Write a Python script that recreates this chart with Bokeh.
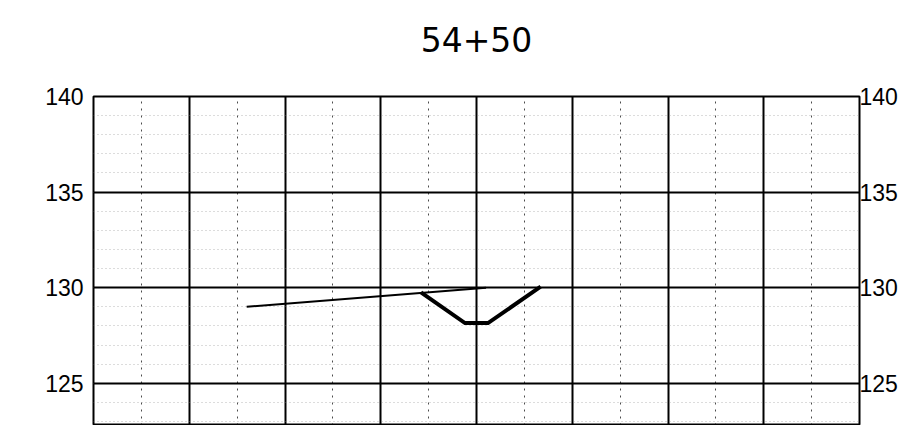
from bokeh.plotting import figure
from bokeh.models import SingleIntervalTicker, FixedTicker, Range1d, LinearAxis
from bokeh.embed import file_html
from bokeh.resources import INLINE

# ---- data ----
title_text = "54+50"
x_start, x_end = -40, 40
y_top, y_bottom = 140, 122.79
y_ticks = [125, 130, 135, 140]
y_tick_labels = ["125", "130", "135", "140"]
ground_x = [-24.0, 1.0]
ground_y = [129.0, 130.0]
ditch_x = [-5.8, -1.2, 1.2, 6.7]
ditch_y = [129.75, 128.15, 128.15, 130.05]

p = figure(width=900, height=425, output_backend="svg", toolbar_location=None,
           x_range=Range1d(x_start, x_end), y_range=Range1d(y_bottom, y_top),
           x_axis_location=None, y_axis_location="left",
           min_border_left=93, min_border_right=39, min_border_top=96,
           min_border_bottom=0)

p.background_fill_color = "white"
p.border_fill_color = "white"
p.outline_line_color = "black"
p.outline_line_width = 2

xt = SingleIntervalTicker(interval=10, num_minor_ticks=2)
yt = SingleIntervalTicker(interval=5, num_minor_ticks=5)

p.xgrid.ticker = xt
p.xgrid.grid_line_color = "black"
p.xgrid.grid_line_width = 2
p.xgrid.minor_grid_line_color = "black"
p.xgrid.minor_grid_line_width = 1
p.xgrid.minor_grid_line_dash = "2 5"
p.xgrid.minor_grid_line_alpha = 0.7

p.ygrid.ticker = yt
p.ygrid.grid_line_color = "black"
p.ygrid.grid_line_width = 2
p.ygrid.minor_grid_line_color = "#888888"
p.ygrid.minor_grid_line_width = 1
p.ygrid.minor_grid_line_dash = "1 3"
p.ygrid.minor_grid_line_alpha = 0.6

overrides = {t: s for t, s in zip(y_ticks, y_tick_labels)}


def style_axis(ax, standoff):
    ax.ticker = yt
    ax.major_label_overrides = overrides
    ax.axis_line_color = None
    ax.major_tick_line_color = None
    ax.minor_tick_line_color = None
    ax.major_tick_out = 0
    ax.major_tick_in = 0
    ax.minor_tick_out = 0
    ax.minor_tick_in = 0
    ax.major_label_standoff = standoff
    ax.major_label_text_font = "Liberation Sans"
    ax.major_label_text_font_size = "23px"
    ax.major_label_text_color = "black"


style_axis(p.yaxis[0], 10)
right_axis = LinearAxis()
style_axis(right_axis, 0)
p.add_layout(right_axis, "right")

# title drawn as the label of an empty axis above the frame
title_axis = LinearAxis(ticker=FixedTicker(ticks=[]), axis_label=title_text)
title_axis.axis_line_color = None
title_axis.major_tick_out = 0
title_axis.major_tick_in = 0
title_axis.minor_tick_out = 0
title_axis.minor_tick_in = 0
title_axis.major_label_standoff = 0
title_axis.axis_label_standoff = 45
title_axis.axis_label_text_font = "DejaVu Sans"
title_axis.axis_label_text_font_size = "33px"
title_axis.axis_label_text_font_style = "normal"
title_axis.axis_label_text_color = "black"
p.add_layout(title_axis, "above")

p.line(ground_x, ground_y, line_width=2, line_color="black")
p.line(ditch_x, ditch_y, line_width=4, line_color="black", line_join="miter")

open("out.html", "w").write(file_html(p, INLINE))
